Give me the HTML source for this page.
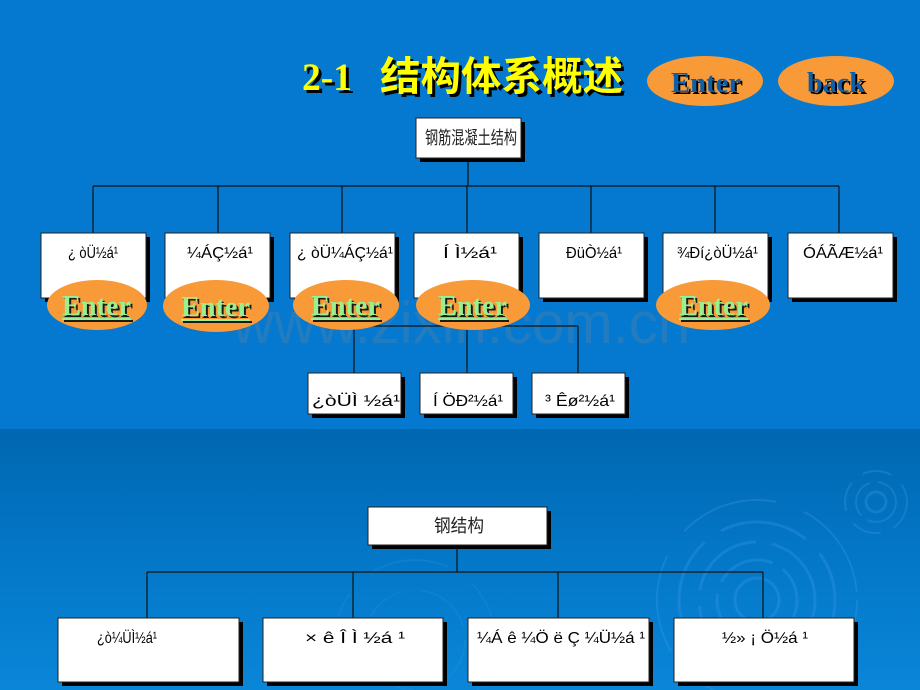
<!DOCTYPE html>
<html>
<head>
<meta charset="utf-8">
<style>
html,body{margin:0;padding:0;width:920px;height:690px;overflow:hidden;background:#0579cf;}
svg{display:block;}
.lbl{font-family:"Liberation Sans",sans-serif;font-size:16px;fill:#000;}
.cjk{font-family:"Liberation Sans","Noto Sans CJK SC",sans-serif;}
</style>
</head>
<body>
<svg width="920" height="690" viewBox="0 0 920 690" xmlns="http://www.w3.org/2000/svg">
  <defs>
    <linearGradient id="bot" x1="0" y1="0" x2="0" y2="1">
      <stop offset="0" stop-color="#0067b0"/>
      <stop offset="0.45" stop-color="#0376c6"/>
      <stop offset="1" stop-color="#0a86d8"/>
    </linearGradient>
  </defs>
  <rect x="0" y="0" width="920" height="429" fill="#0579cf"/>
  <rect x="0" y="429" width="920" height="261" fill="url(#bot)"/>

  <!-- ripples -->
  <g fill="none" stroke="#3d9de6" opacity="0.3">
    <circle cx="876" cy="502" r="10" stroke-width="3"/>
    <circle cx="876" cy="502" r="20" stroke-width="2" stroke-dasharray="40 8"/>
    <circle cx="876" cy="502" r="31" stroke-width="2" stroke-dasharray="30 14"/>
    <circle cx="757" cy="600" r="22" stroke-width="3"/>
    <circle cx="757" cy="600" r="40" stroke-width="3" stroke-dasharray="60 12"/>
    <circle cx="757" cy="600" r="58" stroke-width="3" stroke-dasharray="80 16"/>
    <circle cx="757" cy="600" r="78" stroke-width="3" stroke-dasharray="90 20"/>
    <circle cx="757" cy="600" r="100" stroke-width="2" stroke-dasharray="100 30"/>
    <circle cx="415" cy="640" r="50" stroke-width="2" stroke-dasharray="60 20" opacity="0.6"/>
    <circle cx="415" cy="640" r="80" stroke-width="2" stroke-dasharray="80 30" opacity="0.6"/>
  </g>

  <!-- watermark -->
  <text x="232" y="343" font-family="Liberation Sans, sans-serif" font-size="58" fill="#8a8a8a" opacity="0.22" textLength="458" lengthAdjust="spacingAndGlyphs">www.zixin.com.cn</text>

  <!-- title -->
  <g font-weight="bold">
    <text x="305" y="93" font-family="Liberation Serif, serif" font-size="39" fill="#000" textLength="50" lengthAdjust="spacingAndGlyphs">2-1</text>
    <text x="302" y="90" font-family="Liberation Serif, serif" font-size="39" fill="#ffff00" textLength="50" lengthAdjust="spacingAndGlyphs">2-1</text>
    <text x="383" y="93" class="cjk" font-size="40" fill="#000" textLength="243" lengthAdjust="spacingAndGlyphs">结构体系概述</text>
    <text x="380" y="90" class="cjk" font-size="40" fill="#ffff00" textLength="243" lengthAdjust="spacingAndGlyphs">结构体系概述</text>
  </g>

  <!-- Enter / back buttons -->
  <ellipse cx="705" cy="81" rx="58" ry="25" fill="#f99a38"/>
  <ellipse cx="836" cy="81" rx="58" ry="25" fill="#f99a38"/>
  <g font-family="Liberation Serif, serif" font-weight="bold" font-size="28">
    <text x="673" y="94" fill="#000" textLength="70" lengthAdjust="spacingAndGlyphs">Enter</text>
    <text x="671" y="92" fill="#0f5ea6" textLength="70" lengthAdjust="spacingAndGlyphs">Enter</text>
    <text x="809" y="94" fill="#000" textLength="58" lengthAdjust="spacingAndGlyphs">back</text>
    <text x="807" y="92" fill="#0f5ea6" textLength="58" lengthAdjust="spacingAndGlyphs">back</text>
  </g>

  <!-- connectors -->
  <g stroke="#111" stroke-width="1.2" fill="none">
    <line x1="468" y1="158" x2="468" y2="186"/>
    <line x1="93" y1="186" x2="839" y2="186"/>
    <line x1="93" y1="186" x2="93" y2="233"/>
    <line x1="218" y1="186" x2="218" y2="233"/>
    <line x1="342" y1="186" x2="342" y2="233"/>
    <line x1="467" y1="186" x2="467" y2="233"/>
    <line x1="591" y1="186" x2="591" y2="233"/>
    <line x1="715" y1="186" x2="715" y2="233"/>
    <line x1="839" y1="186" x2="839" y2="233"/>
    <line x1="467" y1="297" x2="467" y2="373"/>
    <line x1="354" y1="326" x2="578" y2="326"/>
    <line x1="354" y1="326" x2="354" y2="373"/>
    <line x1="578" y1="326" x2="578" y2="373"/>
    <line x1="457" y1="545" x2="457" y2="572"/>
    <line x1="147" y1="572" x2="763" y2="572"/>
    <line x1="147" y1="572" x2="147" y2="618"/>
    <line x1="353" y1="572" x2="353" y2="618"/>
    <line x1="558" y1="572" x2="558" y2="618"/>
    <line x1="763" y1="572" x2="763" y2="618"/>
  </g>

  <!-- boxes -->
  <g>
    <rect x="420" y="122" width="105" height="40" fill="#000"/>
    <rect x="416" y="118" width="105" height="40" fill="#fff" stroke="#222" stroke-width="1"/>

    <rect x="45" y="237" width="105" height="65" fill="#000"/>
    <rect x="41" y="233" width="105" height="65" fill="#fff" stroke="#222"/>
    <rect x="169" y="237" width="105" height="65" fill="#000"/>
    <rect x="165" y="233" width="105" height="65" fill="#fff" stroke="#222"/>
    <rect x="294" y="237" width="105" height="65" fill="#000"/>
    <rect x="290" y="233" width="105" height="65" fill="#fff" stroke="#222"/>
    <rect x="418" y="237" width="105" height="65" fill="#000"/>
    <rect x="414" y="233" width="105" height="65" fill="#fff" stroke="#222"/>
    <rect x="543" y="237" width="105" height="65" fill="#000"/>
    <rect x="539" y="233" width="105" height="65" fill="#fff" stroke="#222"/>
    <rect x="667" y="237" width="105" height="65" fill="#000"/>
    <rect x="663" y="233" width="105" height="65" fill="#fff" stroke="#222"/>
    <rect x="792" y="237" width="105" height="65" fill="#000"/>
    <rect x="788" y="233" width="105" height="65" fill="#fff" stroke="#222"/>

    <rect x="312" y="377" width="93" height="41" fill="#000"/>
    <rect x="308" y="373" width="93" height="41" fill="#fff" stroke="#222"/>
    <rect x="424" y="377" width="93" height="41" fill="#000"/>
    <rect x="420" y="373" width="93" height="41" fill="#fff" stroke="#222"/>
    <rect x="536" y="377" width="93" height="41" fill="#000"/>
    <rect x="532" y="373" width="93" height="41" fill="#fff" stroke="#222"/>

    <rect x="372" y="511" width="179" height="38" fill="#000"/>
    <rect x="368" y="507" width="179" height="38" fill="#fff" stroke="#222"/>

    <rect x="62" y="622" width="181" height="64" fill="#000"/>
    <rect x="58" y="618" width="181" height="64" fill="#fff" stroke="#222"/>
    <rect x="267" y="622" width="180" height="64" fill="#000"/>
    <rect x="263" y="618" width="180" height="64" fill="#fff" stroke="#222"/>
    <rect x="472" y="622" width="181" height="64" fill="#000"/>
    <rect x="468" y="618" width="181" height="64" fill="#fff" stroke="#222"/>
    <rect x="678" y="622" width="180" height="64" fill="#000"/>
    <rect x="674" y="618" width="180" height="64" fill="#fff" stroke="#222"/>
  </g>

  <!-- labels -->
  <text x="425" y="144" class="cjk" font-size="18" fill="#222" textLength="92" lengthAdjust="spacingAndGlyphs">钢筋混凝土结构</text>
  <text x="434" y="532" class="cjk" font-size="18" fill="#222" textLength="50" lengthAdjust="spacingAndGlyphs">钢结构</text>

  <g class="lbl">
    <text x="68" y="258" textLength="50" lengthAdjust="spacingAndGlyphs">¿ òÜ½á¹</text>
    <text x="187" y="258" textLength="66" lengthAdjust="spacingAndGlyphs">¼ÁÇ½á¹</text>
    <text x="297" y="258" textLength="96" lengthAdjust="spacingAndGlyphs">¿ òÜ¼ÁÇ½á¹</text>
    <text x="443" y="258" textLength="54" lengthAdjust="spacingAndGlyphs">Í Ì½á¹</text>
    <text x="566" y="258" textLength="56" lengthAdjust="spacingAndGlyphs">ÐüÒ½á¹</text>
    <text x="677" y="258" textLength="81" lengthAdjust="spacingAndGlyphs">¾Ðí¿òÜ½á¹</text>
    <text x="803" y="258" textLength="80" lengthAdjust="spacingAndGlyphs">ÓÁÃÆ½á¹</text>

    <text x="312" y="406" textLength="88" lengthAdjust="spacingAndGlyphs">¿òÜÌ ½á¹</text>
    <text x="433" y="406" textLength="70" lengthAdjust="spacingAndGlyphs">Í ÖÐ²½á¹</text>
    <text x="545" y="406" textLength="70" lengthAdjust="spacingAndGlyphs">³ Êø²½á¹</text>

    <text x="97" y="643" textLength="60" lengthAdjust="spacingAndGlyphs">¿ò¼ÜÌ½á¹</text>
    <text x="305" y="643" textLength="100" lengthAdjust="spacingAndGlyphs">× ê Î Ì ½á ¹</text>
    <text x="477" y="643" textLength="168" lengthAdjust="spacingAndGlyphs">¼Á ê ¼Ö ë Ç ¼Ü½á ¹</text>
    <text x="722" y="643" textLength="86" lengthAdjust="spacingAndGlyphs">½» ¡ Ö½á ¹</text>
  </g>

  <!-- lower Enter ellipses -->
  <g>
    <ellipse cx="97" cy="305" rx="50" ry="25" fill="#f99a38"/>
    <ellipse cx="216" cy="306" rx="53" ry="26" fill="#f99a38"/>
    <ellipse cx="346" cy="305" rx="53" ry="25" fill="#f99a38"/>
    <ellipse cx="473" cy="305" rx="57" ry="25" fill="#f99a38"/>
    <ellipse cx="713" cy="305" rx="57" ry="25" fill="#f99a38"/>
  </g>
  <g font-family="Liberation Serif, serif" font-weight="bold" font-size="28">
    <g fill="#1a1a1a">
      <text x="64" y="317" textLength="69" lengthAdjust="spacingAndGlyphs">Enter</text>
      <text x="183" y="318" textLength="69" lengthAdjust="spacingAndGlyphs">Enter</text>
      <text x="313" y="317" textLength="69" lengthAdjust="spacingAndGlyphs">Enter</text>
      <text x="440" y="317" textLength="69" lengthAdjust="spacingAndGlyphs">Enter</text>
      <text x="681" y="317" textLength="69" lengthAdjust="spacingAndGlyphs">Enter</text>
    </g>
    <g fill="#9af08e">
      <text x="62" y="315" textLength="69" lengthAdjust="spacingAndGlyphs">Enter</text>
      <text x="181" y="316" textLength="69" lengthAdjust="spacingAndGlyphs">Enter</text>
      <text x="311" y="315" textLength="69" lengthAdjust="spacingAndGlyphs">Enter</text>
      <text x="438" y="315" textLength="69" lengthAdjust="spacingAndGlyphs">Enter</text>
      <text x="679" y="315" textLength="69" lengthAdjust="spacingAndGlyphs">Enter</text>
    </g>
  </g>
  <g stroke-width="2">
    <line x1="64" y1="321" x2="133" y2="321" stroke="#1a1a1a"/>
    <line x1="62" y1="319" x2="131" y2="319" stroke="#9af08e"/>
    <line x1="183" y1="322" x2="252" y2="322" stroke="#1a1a1a"/>
    <line x1="181" y1="320" x2="250" y2="320" stroke="#9af08e"/>
    <line x1="313" y1="321" x2="382" y2="321" stroke="#1a1a1a"/>
    <line x1="311" y1="319" x2="380" y2="319" stroke="#9af08e"/>
    <line x1="440" y1="321" x2="509" y2="321" stroke="#1a1a1a"/>
    <line x1="438" y1="319" x2="507" y2="319" stroke="#9af08e"/>
    <line x1="681" y1="321" x2="750" y2="321" stroke="#1a1a1a"/>
    <line x1="679" y1="319" x2="748" y2="319" stroke="#9af08e"/>
  </g>
</svg>
</body>
</html>
